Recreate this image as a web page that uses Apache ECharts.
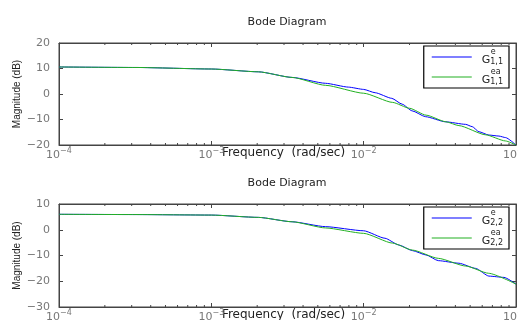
<!DOCTYPE html>
<html>
<head>
<meta charset="utf-8">
<script src="https://cdn.jsdelivr.net/npm/echarts@6/dist/echarts.min.js"></script>
<style>
html, body { margin: 0; padding: 0; background: #fff; }
#chart { width: 518px; height: 320px; }
</style>
</head>
<body>
<div id="chart"></div>
<script>
// G_{1,1}
var freq1e = [1e-4, 3.2e-4, 1e-3, 2.04e-3, 3.39e-3, 5.62e-3, 7.94e-3, 1e-2, 1.19e-2, 1.53e-2, 1.79e-2, 2.08e-2, 2.55e-2, 3.44e-2, 4.67e-2, 5.16e-2, 5.71e-2, 6.64e-2, 7.73e-2, 8.55e-2, 0.1];
var mag1e = [10.6, 10.4, 9.8, 8.7, 6.5, 4.2, 2.7, 1.8, 0.5, -1.7, -4.0, -6.6, -8.9, -10.9, -11.9, -12.8, -14.8, -16.1, -16.5, -17.1, -20.0];
var freq1ea = [1e-4, 3.2e-4, 1e-3, 2.04e-3, 3.39e-3, 5.62e-3, 1e-2, 1.55e-2, 2.0e-2, 2.57e-2, 3.47e-2, 4.22e-2, 6.31e-2, 8.51e-2, 0.1];
var mag1ea = [10.6, 10.4, 9.8, 8.7, 6.5, 3.4, 0.3, -3.3, -5.6, -8.3, -10.9, -12.4, -16.0, -18.4, -20.0];
// G_{2,2}
var freq2e = [1e-4, 3.2e-4, 1e-3, 2.04e-3, 3.39e-3, 5.62e-3, 1e-2, 1.38e-2, 1.70e-2, 2.09e-2, 2.57e-2, 3.09e-2, 4.22e-2, 5.43e-2, 6.64e-2, 8.34e-2, 0.1];
var mag2e = [6.0, 5.9, 5.7, 4.8, 3.1, 1.2, -0.4, -3.3, -5.9, -8.1, -9.8, -12.0, -13.0, -15.0, -18.0, -18.5, -21.1];
var freq2ea = [1e-4, 3.2e-4, 1e-3, 2.04e-3, 3.39e-3, 5.62e-3, 1e-2, 1.55e-2, 2.09e-2, 3.09e-2, 4.68e-2, 6.61e-2, 0.1];
var mag2ea = [6.0, 5.9, 5.7, 4.8, 3.1, 0.7, -1.4, -5.2, -7.9, -11.1, -14.1, -16.9, -21.1];

var minorFreq = [2e-4, 3e-4, 4e-4, 5e-4, 6e-4, 7e-4, 8e-4, 9e-4,
                 2e-3, 3e-3, 4e-3, 5e-3, 6e-3, 7e-3, 8e-3, 9e-3,
                 2e-2, 3e-2, 4e-2, 5e-2, 6e-2, 7e-2, 8e-2, 9e-2];
var yRange1 = [-20, 20];
var yRange2 = [-30, 10];

var axisColor = '#444';
var labelColor = '#777';
var font = 'DejaVu Sans';

function pairs(xs, ys) {
    return xs.map(function (x, i) { return [x, ys[i]]; });
}

function freqAxis(gi, pos, withLabel) {
    return {
        type: 'log', gridIndex: gi, position: pos,
        min: 1e-4, max: 1e-1,
        axisLine: { show: true, onZero: false, lineStyle: { color: axisColor, width: 1 } },
        axisTick: { show: true, inside: true, length: 4, lineStyle: { color: axisColor } },
        splitLine: { show: false },
        name: withLabel ? 'Frequency  (rad/sec)' : '',
        nameLocation: 'middle', nameGap: 2, nameMoveOverlap: false,
        nameTextStyle: { fontFamily: font, fontSize: 12, color: '#222', verticalAlign: 'top', padding: [0, 8, 0, 0] },
        axisLabel: {
            show: withLabel, margin: 2, alignMaxLabel: 'center', alignMinLabel: 'center',
            formatter: function (v) {
                var e = Math.round(Math.log10(v));
                return '{b|10}{s|' + (e < 0 ? '\u2212' : '') + Math.abs(e) + '}';
            },
            rich: {
                b: { fontFamily: font, fontSize: 11, color: labelColor, verticalAlign: 'bottom', lineHeight: 14 },
                s: { fontFamily: font, fontSize: 8, color: labelColor, verticalAlign: 'top', lineHeight: 9 }
            }
        }
    };
}

function magAxis(gi, pos, range, withLabel) {
    return {
        type: 'value', gridIndex: gi, position: pos,
        min: range[0], max: range[1], interval: 10,
        axisLine: { show: true, onZero: false, lineStyle: { color: axisColor, width: 1 } },
        axisTick: { show: true, inside: true, length: 4, lineStyle: { color: axisColor } },
        splitLine: { show: false },
        name: withLabel ? 'Magnitude (dB)' : '',
        nameLocation: 'middle', nameGap: 37, nameRotate: 90, nameMoveOverlap: false,
        nameTextStyle: { fontFamily: 'Liberation Sans', fontSize: 10, color: '#222' },
        axisLabel: {
            show: withLabel, margin: 9,
            fontFamily: font, fontSize: 11, color: labelColor,
            formatter: function (v) { return v < 0 ? '\u2212' + Math.abs(v) : String(v); }
        }
    };
}

function minorTicks(range) {
    return function (params, api) {
        var b = api.coord([api.value(0), range[0]]);
        var t = api.coord([api.value(0), range[1]]);
        return {
            type: 'group',
            children: [
                { type: 'line', shape: { x1: b[0], y1: b[1], x2: b[0], y2: b[1] - 2 }, style: { stroke: axisColor, lineWidth: 1 } },
                { type: 'line', shape: { x1: t[0], y1: t[1], x2: t[0], y2: t[1] + 2 }, style: { stroke: axisColor, lineWidth: 1 } }
            ]
        };
    };
}

function legendLabel(name) {
    var parts = { G11e: ['e', '1,1'], G11ea: ['ea', '1,1'], G22e: ['e', '2,2'], G22ea: ['ea', '2,2'] }[name];
    return '{p| }{sup|' + parts[0] + '}\n{g|G}{sub|' + parts[1] + '}';
}

function legendBox(top, names) {
    return {
        orient: 'vertical', right: 9, top: top,
        data: names, selectedMode: false,
        icon: 'rect', itemWidth: 40, itemHeight: 1, itemGap: 2,
        padding: [2, 6, 2, 8],
        borderColor: '#000', borderWidth: 1.2, backgroundColor: '#fff',
        formatter: legendLabel,
        textStyle: {
            rich: {
                p: { width: 14, fontSize: 8, lineHeight: 7 },
                sup: { fontFamily: font, fontSize: 8, color: '#222', lineHeight: 7 },
                g: { fontFamily: font, fontSize: 11, color: '#222', lineHeight: 10, padding: [0, 0, 0, 5] },
                sub: { fontFamily: font, fontSize: 8, color: '#222', lineHeight: 10, verticalAlign: 'bottom' }
            }
        }
    };
}

var lineBase = { type: 'line', showSymbol: false, symbol: 'none', smooth: 0.2, smoothMonotone: 'x' };

function curve(name, gi, color, data, z) {
    return Object.assign({}, lineBase, {
        name: name, xAxisIndex: gi * 2, yAxisIndex: gi * 2,
        data: data, z: z,
        lineStyle: { color: color, width: 1 }, itemStyle: { color: color }
    });
}

var gridBase = { left: 59, right: 2, show: true, borderColor: axisColor, borderWidth: 1, outerBoundsMode: 'none' };

var chart = echarts.init(document.getElementById('chart'));
chart.setOption({
    animation: false,
    title: [
        { text: 'Bode Diagram', left: 282, top: 12, textAlign: 'center',
          textStyle: { fontFamily: font, fontSize: 11, fontWeight: 'normal', color: '#222' } },
        { text: 'Bode Diagram', left: 282, top: 173, textAlign: 'center',
          textStyle: { fontFamily: font, fontSize: 11, fontWeight: 'normal', color: '#222' } }
    ],
    grid: [
        Object.assign({}, gridBase, { top: 43, height: 102 }),
        Object.assign({}, gridBase, { top: 204, height: 103 })
    ],
    legend: [
        legendBox(46, ['G11e', 'G11ea']),
        legendBox(207, ['G22e', 'G22ea'])
    ],
    xAxis: [
        freqAxis(0, 'bottom', true), freqAxis(0, 'top', false),
        freqAxis(1, 'bottom', true), freqAxis(1, 'top', false)
    ],
    yAxis: [
        magAxis(0, 'left', yRange1, true), magAxis(0, 'right', yRange1, false),
        magAxis(1, 'left', yRange2, true), magAxis(1, 'right', yRange2, false)
    ],
    series: [
        curve('G11e', 0, '#0000ff', pairs(freq1e, mag1e), 3),
        curve('G11ea', 0, '#22b022', pairs(freq1ea, mag1ea), 4),
        curve('G22e', 1, '#0000ff', pairs(freq2e, mag2e), 3),
        curve('G22ea', 1, '#22b022', pairs(freq2ea, mag2ea), 4),
        { type: 'custom', xAxisIndex: 0, yAxisIndex: 0, silent: true, z: 5,
          data: minorFreq.map(function (f) { return [f, 0]; }), renderItem: minorTicks(yRange1) },
        { type: 'custom', xAxisIndex: 2, yAxisIndex: 2, silent: true, z: 5,
          data: minorFreq.map(function (f) { return [f, 0]; }), renderItem: minorTicks(yRange2) }
    ]
});
</script>
</body>
</html>
